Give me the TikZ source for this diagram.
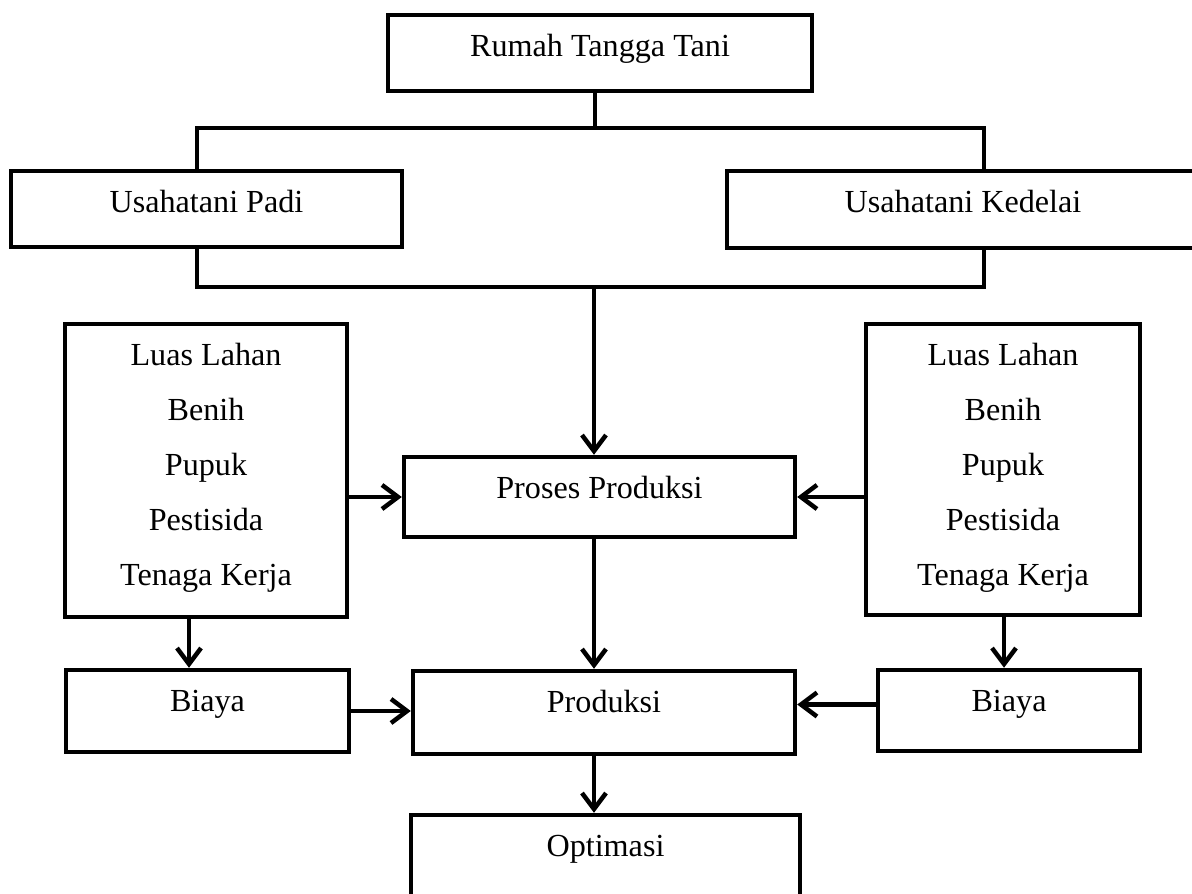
\documentclass[tikz,border=0pt]{standalone}
\usepackage{fontspec}
\setmainfont{Liberation Serif}
\usetikzlibrary{arrows.meta}

\begin{document}
\begin{tikzpicture}[x=0.02cm, y=-0.02cm,
  box/.style={draw, line width=0.09cm, inner sep=0pt},
  lbl/.style={anchor=base, inner sep=0pt, font=\fontsize{18.3}{22}\selectfont},
  line/.style={line width=0.09cm},
  arr/.style={line width=0.09cm, -{Straight Barb[length=0.32cm, width=0.48cm, line width=0.09cm]}}]
\clip (0,0) rectangle (1192,893);

\coordinate (c1) at (600,53);
\coordinate (c2) at (206.5,209);
\coordinate (c3) at (961,209.5);
\coordinate (c4) at (206,470.5);
\coordinate (c5) at (1003,469.5);
\coordinate (c6) at (599.5,497);
\coordinate (c7) at (604,712.5);
\coordinate (c8) at (207.5,711);
\coordinate (c9) at (1009,710.5);
\coordinate (c10) at (605.5,857.5);

\coordinate (t1) at (197,128);
\coordinate (t2) at (984,128);
\coordinate (tm) at (595,128);
\coordinate (b1) at (197,287);
\coordinate (b2) at (984,287);
\coordinate (bm) at (594,287);
\coordinate (da) at (189,0);
\coordinate (db) at (1004,0);

\node[box, minimum width=8.48cm, minimum height=1.52cm] (rumah) at (c1) {};
\node[box, minimum width=7.82cm, minimum height=1.52cm] (padi) at (c2) {};
\node[box, minimum width=9.36cm, minimum height=1.54cm] (kedelai) at (c3) {};
\node[box, minimum width=5.64cm, minimum height=5.86cm] (lista) at (c4) {};
\node[box, minimum width=5.48cm, minimum height=5.82cm] (listb) at (c5) {};
\node[box, minimum width=7.82cm, minimum height=1.6cm] (proses) at (c6) {};
\node[box, minimum width=7.64cm, minimum height=1.66cm] (produksi) at (c7) {};
\node[box, minimum width=5.66cm, minimum height=1.64cm] (biayaa) at (c8) {};
\node[box, minimum width=5.24cm, minimum height=1.62cm] (biayab) at (c9) {};
\node[box, minimum width=7.78cm, minimum height=1.7cm] (optimasi) at (c10) {};

\node[lbl] (trumah) at ([yshift=-0.87cm]rumah.north) {Rumah Tangga Tani};
\node[lbl] (tpadi) at ([yshift=-0.87cm]padi.north) {Usahatani Padi};
\node[lbl] (tkedelai) at ([yshift=-0.87cm]kedelai.north -| 963,0) {Usahatani Kedelai};
\node[lbl] (tproses) at ([yshift=-0.87cm]proses.north) {Proses Produksi};
\node[lbl] (tproduksi) at ([yshift=-0.87cm]produksi.north) {Produksi};
\node[lbl] (tbiayaa) at ([yshift=-0.87cm]biayaa.north) {Biaya};
\node[lbl] (tbiayab) at ([yshift=-0.87cm]biayab.north) {Biaya};
\node[lbl] (toptimasi) at ([yshift=-0.87cm]optimasi.north) {Optimasi};

\foreach \t [count=\i] in {Luas Lahan, Benih, Pupuk, Pestisida, Tenaga Kerja} {
  \node[lbl] (la\i) at ([yshift={-0.88cm-(\i-1)*1.1cm}]lista.north) {\t};
  \node[lbl] (lb\i) at ([yshift={-0.88cm-(\i-1)*1.1cm}]listb.north) {\t};
}

\draw[line] (rumah.south -| tm) -- (tm);
\draw[line] (padi.north -| t1) -- (t1) -- (t2) -- (kedelai.north -| t2);
\draw[line] (padi.south -| b1) -- (b1) -- (b2) -- (kedelai.south -| b2);
\draw[arr] (bm) -- (proses.north -| bm);

\draw[arr] (lista.east |- proses) -- (proses.west);
\draw[arr] (listb.west |- proses) -- (proses.east);
\draw[arr] (proses.south -| bm) -- (produksi.north -| bm);

\draw[arr] (lista.south -| da) -- (biayaa.north -| da);
\draw[arr] (listb.south -| db) -- (biayab.north -| db);
\draw[arr] (biayaa.east) -- (biayaa.east -| produksi.west);
\draw[arr] ([yshift=0.12cm]biayab.west) -- ([yshift=0.12cm]biayab.west -| produksi.east);
\draw[arr] (produksi.south -| bm) -- (optimasi.north -| bm);
\end{tikzpicture}
\end{document}
